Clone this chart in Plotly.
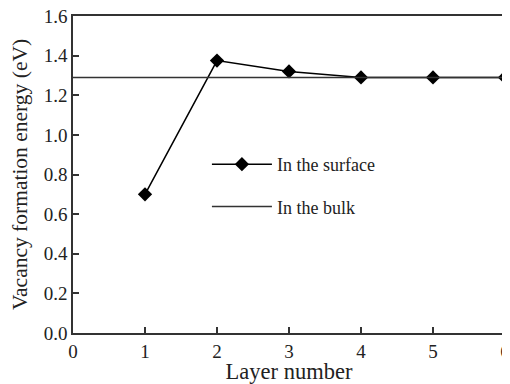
import plotly.graph_objects as go

layers = [1, 2, 3, 4, 5, 6]
surface_energy = [0.70, 1.375, 1.32, 1.29, 1.29, 1.29]
bulk_x = [0, 6]
bulk_energy = [1.29, 1.29]

font = "Liberation Serif, Times New Roman, serif"

fig = go.Figure()
fig.add_trace(go.Scatter(
    x=layers, y=surface_energy, mode="lines+markers", name="In the surface",
    line=dict(color="black", width=1.5),
    marker=dict(symbol="diamond", size=11, color="black"),
    cliponaxis=False, legendgroup="a",
))
fig.add_trace(go.Scatter(
    x=bulk_x, y=bulk_energy, mode="lines", name="In the bulk",
    line=dict(color="#333333", width=1.5), legendgroup="b",
))

# page body has an 8px default margin, so the figure is sized/placed accordingly
fig.update_layout(
    width=502, height=376,
    margin=dict(l=65, r=5, t=8, b=51),
    paper_bgcolor="white", plot_bgcolor="white",
    font=dict(family=font, size=19, color="#222222"),
    showlegend=True,
    legend=dict(x=0.31, y=0.59, xanchor="left", yanchor="top",
                bgcolor="rgba(0,0,0,0)", tracegroupgap=16,
                font=dict(size=18), itemwidth=60),
    xaxis=dict(range=[0, 6], tickvals=[0, 1, 2, 3, 4, 5, 6], ticks="inside",
               ticklen=6, tickwidth=1.5, tickcolor="#333", automargin=False,
               ticklabeloverflow="allow",
               showline=True, linecolor="#333", linewidth=1.5, mirror=True,
               showgrid=False, zeroline=False, tickfont=dict(size=19),
               title=dict(text="Layer number", font=dict(size=22.5), standoff=15)),
    yaxis=dict(range=[0, 1.6], tickvals=[0, 0.2, 0.4, 0.6, 0.8, 1.0, 1.2, 1.4, 1.6],
               tickformat=".1f", ticks="inside", ticklen=6, tickwidth=1.5, tickcolor="#333",
               ticklabeloverflow="allow",
               showline=True, linecolor="#333", linewidth=1.5, mirror=True, automargin=False,
               showgrid=False, zeroline=False, tickfont=dict(size=19),
               title=dict(text="Vacancy formation energy (eV)", font=dict(size=21.5), standoff=10)),
)

fig.write_html("out.html")
